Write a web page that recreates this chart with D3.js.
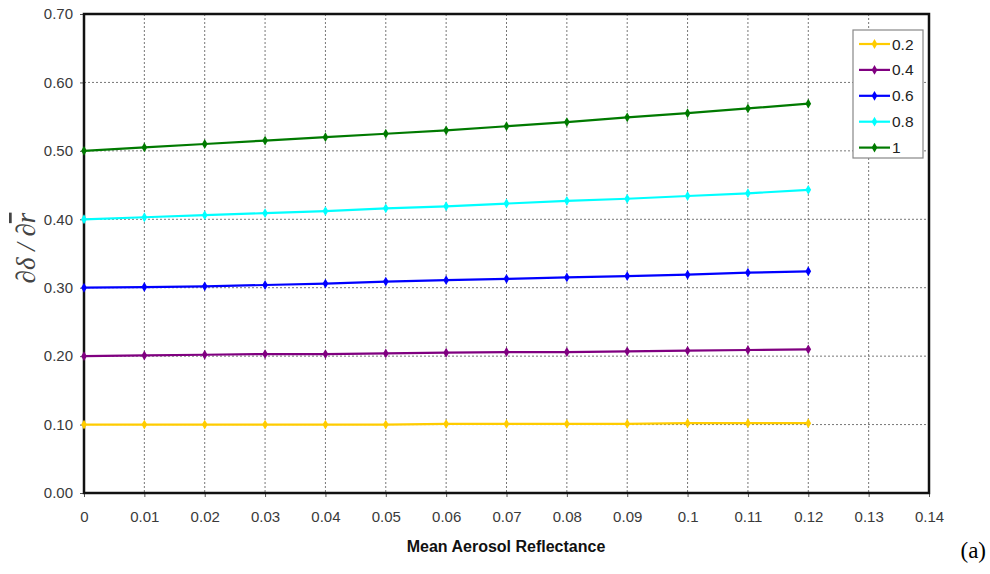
<!DOCTYPE html>
<html><head><meta charset="utf-8">
<script src="https://cdn.jsdelivr.net/npm/d3@7"></script>
<style>
body{margin:0;background:#fff;}
svg{display:block;font-family:"Liberation Sans",Arial,sans-serif;}
</style></head>
<body><svg id="c" width="990" height="574"></svg>
<script>
const xValues = [0,0.01,0.02,0.03,0.04,0.05,0.06,0.07,0.08,0.09,0.10,0.11,0.12];
const seriesNames = ["0.2","0.4","0.6","0.8","1"];
const s02 = [0.100,0.100,0.100,0.100,0.100,0.100,0.101,0.101,0.101,0.101,0.102,0.102,0.102];
const s04 = [0.200,0.201,0.202,0.203,0.203,0.204,0.205,0.206,0.206,0.207,0.208,0.209,0.210];
const s06 = [0.300,0.301,0.302,0.304,0.306,0.309,0.311,0.313,0.315,0.317,0.319,0.322,0.324];
const s08 = [0.400,0.403,0.406,0.409,0.412,0.416,0.419,0.423,0.427,0.430,0.434,0.438,0.443];
const s10 = [0.500,0.505,0.510,0.515,0.520,0.525,0.530,0.536,0.542,0.549,0.555,0.562,0.569];
const xTicks = [0,0.01,0.02,0.03,0.04,0.05,0.06,0.07,0.08,0.09,0.1,0.11,0.12,0.13,0.14];
const yTicks = [0,0.1,0.2,0.3,0.4,0.5,0.6,0.7];
const colors = ["#FFCC00","#800080","#0000FF","#00FFFF","#007A00"];

const series = [s02,s04,s06,s08,s10].map((v,i)=>({name:seriesNames[i],color:colors[i],values:v}));

const svg = d3.select("#c");
const L=84,R=929,T=14,B=493;
const x = d3.scaleLinear().domain([0,0.14]).range([L,R]);
const y = d3.scaleLinear().domain([0,0.7]).range([B,T]);

// gridlines
svg.append("g").selectAll("line").data(xTicks.slice(1,-1)).join("line")
  .attr("x1",d=>x(d)).attr("x2",d=>x(d)).attr("y1",T).attr("y2",B)
  .attr("stroke","#777").attr("stroke-width",1).attr("stroke-dasharray","2,2");
svg.append("g").selectAll("line").data(yTicks.slice(1,-1)).join("line")
  .attr("x1",L).attr("x2",R).attr("y1",d=>y(d)).attr("y2",d=>y(d))
  .attr("stroke","#777").attr("stroke-width",1).attr("stroke-dasharray","2,2");

// axes
const xAxis = d3.axisBottom(x).tickValues(xTicks).tickFormat(d=>d===0?"0":String(+d.toFixed(2))).tickSize(4).tickPadding(14);
const yAxis = d3.axisLeft(y).tickValues(yTicks).tickFormat(d3.format(".2f")).tickSize(4).tickPadding(7);
const gx = svg.append("g").attr("transform",`translate(0,${B})`).call(xAxis);
const gy = svg.append("g").attr("transform",`translate(${L},0)`).call(yAxis);
[gx,gy].forEach(g=>{
  g.attr("font-family",null).attr("font-size",null);
  g.select(".domain").remove();
  g.selectAll(".tick line").attr("stroke","#555");
  g.selectAll(".tick text").attr("fill","#3a3a3a")
    .style("font-family","'Liberation Sans',Arial,sans-serif").style("font-size","15px");
});

// plot border
svg.append("rect").attr("x",L).attr("y",T).attr("width",R-L).attr("height",B-T)
  .attr("fill","none").attr("stroke","#111").attr("stroke-width",2.5);

// lines
const line = d3.line().x((d,i)=>x(xValues[i])).y(d=>y(d));
const gs = svg.append("g").selectAll("g").data(series).join("g");
gs.append("path").attr("d",d=>line(d.values)).attr("fill","none")
  .attr("stroke",d=>d.color).attr("stroke-width",2.2);
const diamond = d3.symbol().type(d3.symbolDiamond).size(28);
gs.each(function(s){
  d3.select(this).selectAll("path.m").data(s.values).join("path").attr("class","m")
    .attr("d",diamond).attr("transform",(d,i)=>`translate(${x(xValues[i])},${y(d)})`)
    .attr("fill",s.color);
});

// legend
const lg = svg.append("g");
lg.append("rect").attr("x",853).attr("y",30).attr("width",70).attr("height",128)
  .attr("fill","#fff").attr("stroke","#888").attr("stroke-width",1.2);
const le = lg.selectAll("g").data(series).join("g")
  .attr("transform",(d,i)=>`translate(0,${44+i*25.9})`);
le.append("line").attr("x1",859).attr("x2",890).attr("stroke",d=>d.color).attr("stroke-width",2.2);
le.append("path").attr("d",diamond).attr("transform","translate(874.5,0)").attr("fill",d=>d.color);
le.append("text").attr("x",892).attr("y",5.5).text(d=>d.name)
  .attr("fill","#222").style("font-size","15.5px");

// axis titles
svg.append("text").attr("x",506).attr("y",552).attr("text-anchor","middle")
  .style("font-size","16px").style("font-weight","bold").attr("fill","#111")
  .text("Mean Aerosol Reflectance");
svg.append("text").attr("x",986).attr("y",558).attr("text-anchor","end")
  .style("font-family","'Liberation Serif','Times New Roman',serif").style("font-size","23px").attr("fill","#000")
  .text("(a)");

const yl = svg.append("text").attr("transform","translate(35,248) rotate(-90)")
  .attr("text-anchor","middle")
  .style("font-family","'Liberation Serif','Times New Roman',serif").style("font-size","27px")
  .style("font-style","italic").attr("fill","#444");
yl.append("tspan").text("∂δ / ∂");
yl.append("tspan").text("r").style("text-decoration","overline");
</script>
</body></html>
